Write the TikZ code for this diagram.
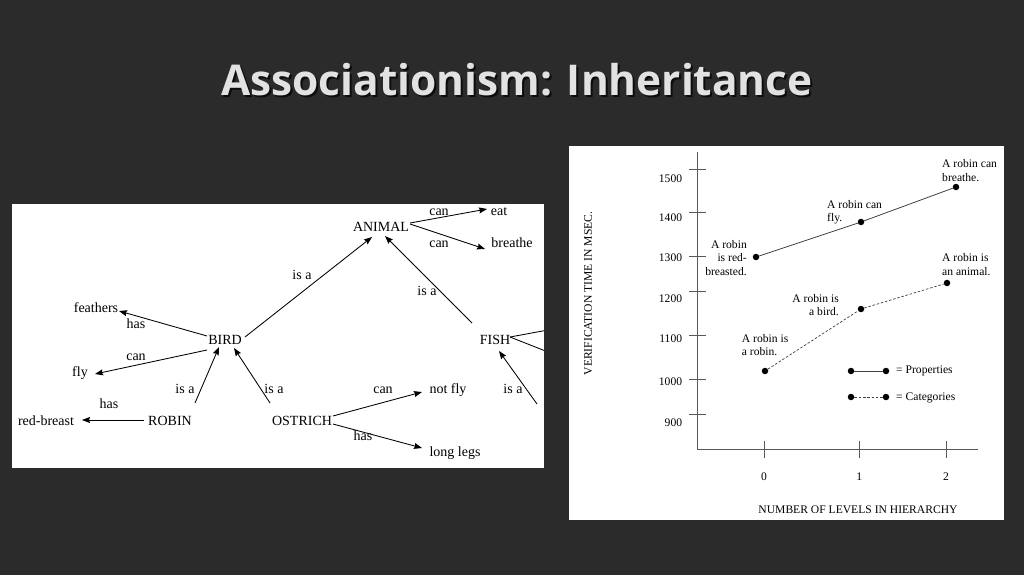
\documentclass[tikz,border=0pt]{standalone}
\usepackage{fontspec}
\setmainfont{Liberation Serif}
\newfontfamily\titlefont{Open Sans}
\usetikzlibrary{arrows.meta}
\definecolor{bg}{RGB}{43,43,43}
\definecolor{titlecol}{RGB}{226,226,226}
\begin{document}
\begin{tikzpicture}[x=1pt,y=-1pt,
  lbl/.style={font=\fontsize{14}{16}\selectfont, inner sep=0pt, anchor=base, text=black},
  arr/.style={draw=black, line width=0.85pt, -{Stealth[length=8pt,width=6pt,inset=1pt]}},
  plainln/.style={draw=black, line width=0.85pt},
  ctxt/.style={font=\fontsize{11.6}{13}\selectfont, inner sep=0pt, text=black},
  axisln/.style={draw=black!65, line width=0.9pt},
  dot/.style={circle, fill=black, inner sep=0pt, minimum size=6.5pt},
  propline/.style={draw=black!75, line width=0.8pt},
  catline/.style={draw=black!75, line width=0.7pt, dash pattern=on 2.5pt off 1.8pt},
  ttl/.style={font=\titlefont\bfseries\fontsize{42.4}{48}\selectfont, inner sep=0pt, anchor=center},
]
\useasboundingbox (0,0) rectangle (1024,575);
\fill[bg] (0,0) rectangle (1024,575);

% title
\node[ttl, text=black, opacity=0.7] (titleshadow) at (519,82) {Associationism: Inheritance};
\node[ttl, text=titlecol] (title) at (517,80) {Associationism: Inheritance};

% ---------------- left panel ----------------
\fill[white] (12,204) rectangle (544,468);
\begin{scope}
\clip (12,204) rectangle (544,468);
\node[lbl] (animal) at (381,231.7) {ANIMAL};
\node[lbl] (can1) at (439,215) {can};
\node[lbl] (eat) at (499,215) {eat};
\node[lbl] (can2) at (439,247.3) {can};
\node[lbl] (breathe) at (512,247.3) {breathe};
\node[lbl] (isa1) at (302,279.3) {is a};
\node[lbl] (isa2) at (427,295) {is a};
\node[lbl] (fish) at (495,344) {FISH};
\node[lbl] (isa3) at (513,393.3) {is a};
\node[lbl] (feathers) at (96,312.7) {feathers};
\node[lbl] (has1) at (136,328) {has};
\node[lbl] (bird) at (225,344) {BIRD};
\node[lbl] (can3) at (136,360) {can};
\node[lbl] (fly) at (80,376.7) {fly};
\node[lbl] (isa4) at (185,393.3) {is a};
\node[lbl] (isa5) at (274,393.3) {is a};
\node[lbl] (has2) at (109,408.3) {has};
\node[lbl] (redbreast) at (46,425) {red-breast};
\node[lbl] (robin) at (170,425) {ROBIN};
\node[lbl] (ostrich) at (302,425) {OSTRICH};
\node[lbl] (can4) at (383,393.3) {can};
\node[lbl] (notfly) at (448,393.3) {not fly};
\node[lbl] (has3) at (363,440.7) {has};
\node[lbl] (longlegs) at (455,456.7) {long legs};
\coordinate (fe1) at (548,330);
\coordinate (fe2) at (548,352);
\coordinate (fe3) at (537,404);

\draw[arr] ([shift={(29,-8.7)}]animal.base) -- ([shift={(-12,-6)}]eat.base);
\draw[arr] ([shift={(29,-7.7)}]animal.base) -- ([shift={(-27,1.7)}]breathe.base);
\draw[arr] ([shift={(20,-7)}]bird.base) -- ([shift={(-9,5.3)}]animal.base);
\draw[arr] ([shift={(-23,-21)}]fish.base) -- ([shift={(4,4.3)}]animal.base);
\draw[plainln] ([shift={(15,-7)}]fish.base) -- (fe1);
\draw[plainln] ([shift={(15,-7)}]fish.base) -- (fe2);
\draw[arr] (fe3) -- ([shift={(4,7)}]fish.base);
\draw[arr] ([shift={(-18,-8)}]bird.base) -- ([shift={(23,-1.7)}]feathers.base);
\draw[arr] ([shift={(-18,6)}]bird.base) -- ([shift={(15,-2.7)}]fly.base);
\draw[arr] ([shift={(25,-22)}]robin.base) -- ([shift={(-6,3)}]bird.base);
\draw[arr] ([shift={(-32,-22)}]ostrich.base) -- ([shift={(9,4)}]bird.base);
\draw[arr] ([shift={(-26,-5)}]robin.base) -- ([shift={(36,-5)}]redbreast.base);
\draw[arr] ([shift={(31,-9)}]ostrich.base) -- ([shift={(-26,-1.3)}]notfly.base);
\draw[arr] ([shift={(31,-1)}]ostrich.base) -- ([shift={(-33,-8.7)}]longlegs.base);
\end{scope}

% ---------------- right panel ----------------
\fill[white] (569,146) rectangle (1004,520);
\coordinate (yaxtop) at (697,152);
\coordinate (origin) at (697,449.3);
\coordinate (xaxend) at (978,449.3);
\draw[axisln] (yaxtop) -- (origin) -- (xaxend);
\foreach \yy in {169,212.7,256.7,291.7,335.7,379.3,414.3}
  \draw[axisln] (689,\yy) -- (706,\yy);
\foreach \xx in {764,859.3,946}
  \draw[axisln] (\xx,440.7) -- (\xx,458.3);

\node[ctxt, anchor=base east] (t1500) at (682.3,182.3) {1500};
\node[ctxt, anchor=base east] (t1400) at (682.3,221) {1400};
\node[ctxt, anchor=base east] (t1300) at (682.3,261.7) {1300};
\node[ctxt, anchor=base east] (t1200) at (682.3,302.3) {1200};
\node[ctxt, anchor=base east] (t1100) at (682.3,342.3) {1100};
\node[ctxt, anchor=base east] (t1000) at (682.3,385.7) {1000};
\node[ctxt, anchor=base east] (t900) at (682.3,426.7) {900};
\node[ctxt, anchor=base] (x0) at (764,480.7) {0};
\node[ctxt, anchor=base] (x1) at (859.3,480.7) {1};
\node[ctxt, anchor=base] (x2) at (946,480.7) {2};
\node[ctxt, anchor=base] (xlabel) at (858,513.3) {NUMBER OF LEVELS IN HIERARCHY};
\node[ctxt, anchor=center, rotate=90] (ylabel) at (588,293.5) {VERIFICATION TIME IN MSEC.};

% data
\node[dot] (p0) at (756,257) {};
\node[dot] (p1) at (861,222) {};
\node[dot] (p2) at (956,187) {};
\node[dot] (c0) at (765,371) {};
\node[dot] (c1) at (861,309) {};
\node[dot] (c2) at (947,283) {};
\draw[propline] (p0) -- (p1) -- (p2);
\draw[catline] (c0) -- (c1) -- (c2);

% legend
\node[dot] (l1a) at (851,371) {};
\node[dot] (l1b) at (886,371) {};
\node[dot] (l2a) at (851,397) {};
\node[dot] (l2b) at (886,397) {};
\draw[propline] (l1a) -- (l1b);
\draw[catline] (l2a) -- (l2b);
\node[ctxt, anchor=base west] (legp) at (896,373.3) {= Properties};
\node[ctxt, anchor=base west] (legc) at (896,400) {= Categories};

% point labels
\node[ctxt, anchor=base west] (a1) at (942,167.7) {A robin can};
\node[ctxt, anchor=base west] (a2) at (942,181) {breathe.};
\node[ctxt, anchor=base west] (b1) at (827,208.3) {A robin can};
\node[ctxt, anchor=base west] (b2) at (827,221) {fly.};
\node[ctxt, anchor=base west] (c1a) at (942,261.7) {A robin is};
\node[ctxt, anchor=base west] (c2a) at (942,275) {an animal.};
\node[ctxt, anchor=base east] (d1) at (839,302.3) {A robin is};
\node[ctxt, anchor=base east] (d2) at (839,315) {a bird.};
\node[ctxt, anchor=base east] (e1) at (747,248.3) {A robin};
\node[ctxt, anchor=base east] (e2) at (747,261.7) {is red-};
\node[ctxt, anchor=base east] (e3) at (747,275) {breasted.};
\node[ctxt, anchor=base west] (f1) at (741.7,342.3) {A robin is};
\node[ctxt, anchor=base west] (f2) at (741.7,355.7) {a robin.};
\end{tikzpicture}
\end{document}
